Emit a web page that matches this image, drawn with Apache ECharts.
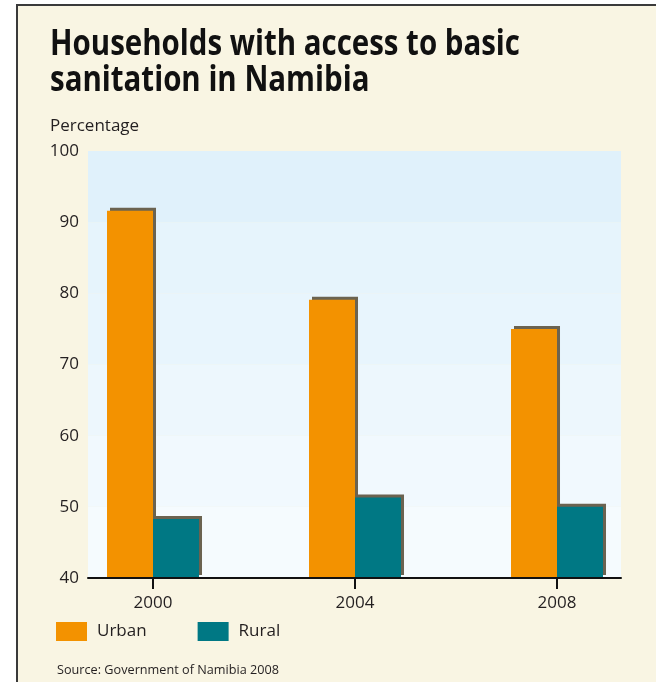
<!DOCTYPE html>
<html>
<head>
<meta charset="utf-8">
<script src="https://cdn.jsdelivr.net/npm/echarts@6/dist/echarts.min.js"></script>
<style>
  html, body { margin: 0; padding: 0; background: #ffffff; }
  #chart { width: 656px; height: 682px; }
</style>
</head>
<body>
<div id="chart"></div>
<script>
// Survey years and share of households (%) with basic sanitation
const years = ['2000', '2004', '2008'];
const urban = [91.6, 79.1, 75.0];
const rural = [48.3, 51.3, 50.0];
const yMin = 40, yMax = 100, yStep = 10;

const titleText = 'Households with access to basic\nsanitation in Namibia';
const unitText = 'Percentage';
const sourceText = 'Source: Government of Namibia 2008';

const FONT = '"Open Sans", "Noto Sans", sans-serif';
const INK = '#231f20';
const CREAM = '#f9f5e3';

// measure a single line so condensed-looking text can be squeezed to width
const ctx = document.createElement('canvas').getContext('2d');
function widthOf(text, font) { ctx.font = font; return ctx.measureText(text).width; }
function squeezed(text, font, target) { return Math.min(1, target / widthOf(text, font)); }

const titleFont = 'bold 35px ' + FONT;
const titleScale = squeezed('Households with access to basic', titleFont, 470);
const unitFont = '17px ' + FONT;
const unitScale = squeezed(unitText, unitFont, 90);
const srcFont = '13px ' + FONT;
const srcScale = squeezed(sourceText, srcFont, 222);

// bars sit on a value axis whose integer positions are the survey years;
// the plot runs a little past the first and last year on each side
const xLo = -0.3218, xHi = 2.3168;
const urbanPts = urban.map((v, i) => [i, v]);
const ruralPts = rural.map((v, i) => [i, v]);

const chart = echarts.init(document.getElementById('chart'), null, { renderer: 'canvas' });

const barShadow = { shadowColor: '#6b6350', shadowBlur: 0, shadowOffsetX: 3, shadowOffsetY: -3 };

chart.setOption({
  backgroundColor: '#ffffff',
  animation: false,
  graphic: [
    { type: 'rect', z: -10, shape: { x: 17, y: 5, width: 700, height: 700 },
      style: { fill: CREAM, stroke: '#3a3a3a', lineWidth: 2 } },
    { type: 'text', x: 50, y: 27, scaleX: titleScale, z: 10,
      style: { text: titleText, font: titleFont, fill: '#111111', lineHeight: 36, verticalAlign: 'top' } },
    { type: 'text', x: 50, y: 118, scaleX: unitScale, z: 10,
      style: { text: unitText, font: unitFont, fill: INK, verticalAlign: 'top' } },
    { type: 'text', x: 57, y: 664, scaleX: srcScale, z: 10,
      style: { text: sourceText, font: srcFont, fill: INK, verticalAlign: 'top' } }
  ],
  legend: {
    left: 51, top: 617, orient: 'horizontal',
    itemWidth: 31, itemHeight: 19, itemGap: 51,
    icon: 'rect',
    itemStyle: { shadowColor: 'rgba(0,0,0,0)', shadowOffsetX: 0, shadowOffsetY: 0, shadowBlur: 0 },
    textStyle: { fontFamily: FONT, fontSize: 17, color: INK, padding: [0, 0, 0, 5] },
    data: ['Urban', 'Rural']
  },
  grid: [
    // banded plot area, value ticks, base line and the bars
    { left: 88, right: 35, top: 151, bottom: 104 },
    // year ticks and labels
    { left: 153, right: 99, top: 151, bottom: 104 }
  ],
  xAxis: [
    { gridIndex: 0, type: 'value', min: xLo, max: xHi, z: 5,
      axisLine: { show: true, lineStyle: { color: '#111111', width: 2 } },
      axisTick: { show: false }, axisLabel: { show: false }, splitLine: { show: false } },
    { gridIndex: 1, type: 'category', data: years, boundaryGap: false, z: 5,
      axisLine: { show: false },
      axisTick: { show: true, length: 11, lineStyle: { color: '#111111', width: 2 } },
      axisLabel: { fontFamily: FONT, fontSize: 17, color: INK, margin: 17 },
      splitLine: { show: false } }
  ],
  yAxis: [
    { gridIndex: 0, type: 'value', min: yMin, max: yMax, interval: yStep,
      axisLine: { show: false }, axisTick: { show: false },
      axisLabel: { fontFamily: FONT, fontSize: 17, color: INK, margin: 9 },
      splitLine: { show: false },
      splitArea: { show: true, areaStyle: {
        color: ['#f5fbfe', '#f1f9fe', '#edf7fd', '#e8f5fd', '#e6f4fc', '#e0f1fb'] } } },
    { gridIndex: 1, type: 'value', min: yMin, max: yMax, show: false }
  ],
  series: [
    { name: 'Urban', type: 'bar', xAxisIndex: 0, yAxisIndex: 0, data: urbanPts,
      barWidth: 46, barGap: '0%',
      itemStyle: Object.assign({ color: '#f39200' }, barShadow) },
    { name: 'Rural', type: 'bar', xAxisIndex: 0, yAxisIndex: 0, data: ruralPts,
      barWidth: 46, barGap: '0%',
      itemStyle: Object.assign({ color: '#007884' }, barShadow) }
  ]
});
</script>
</body>
</html>
